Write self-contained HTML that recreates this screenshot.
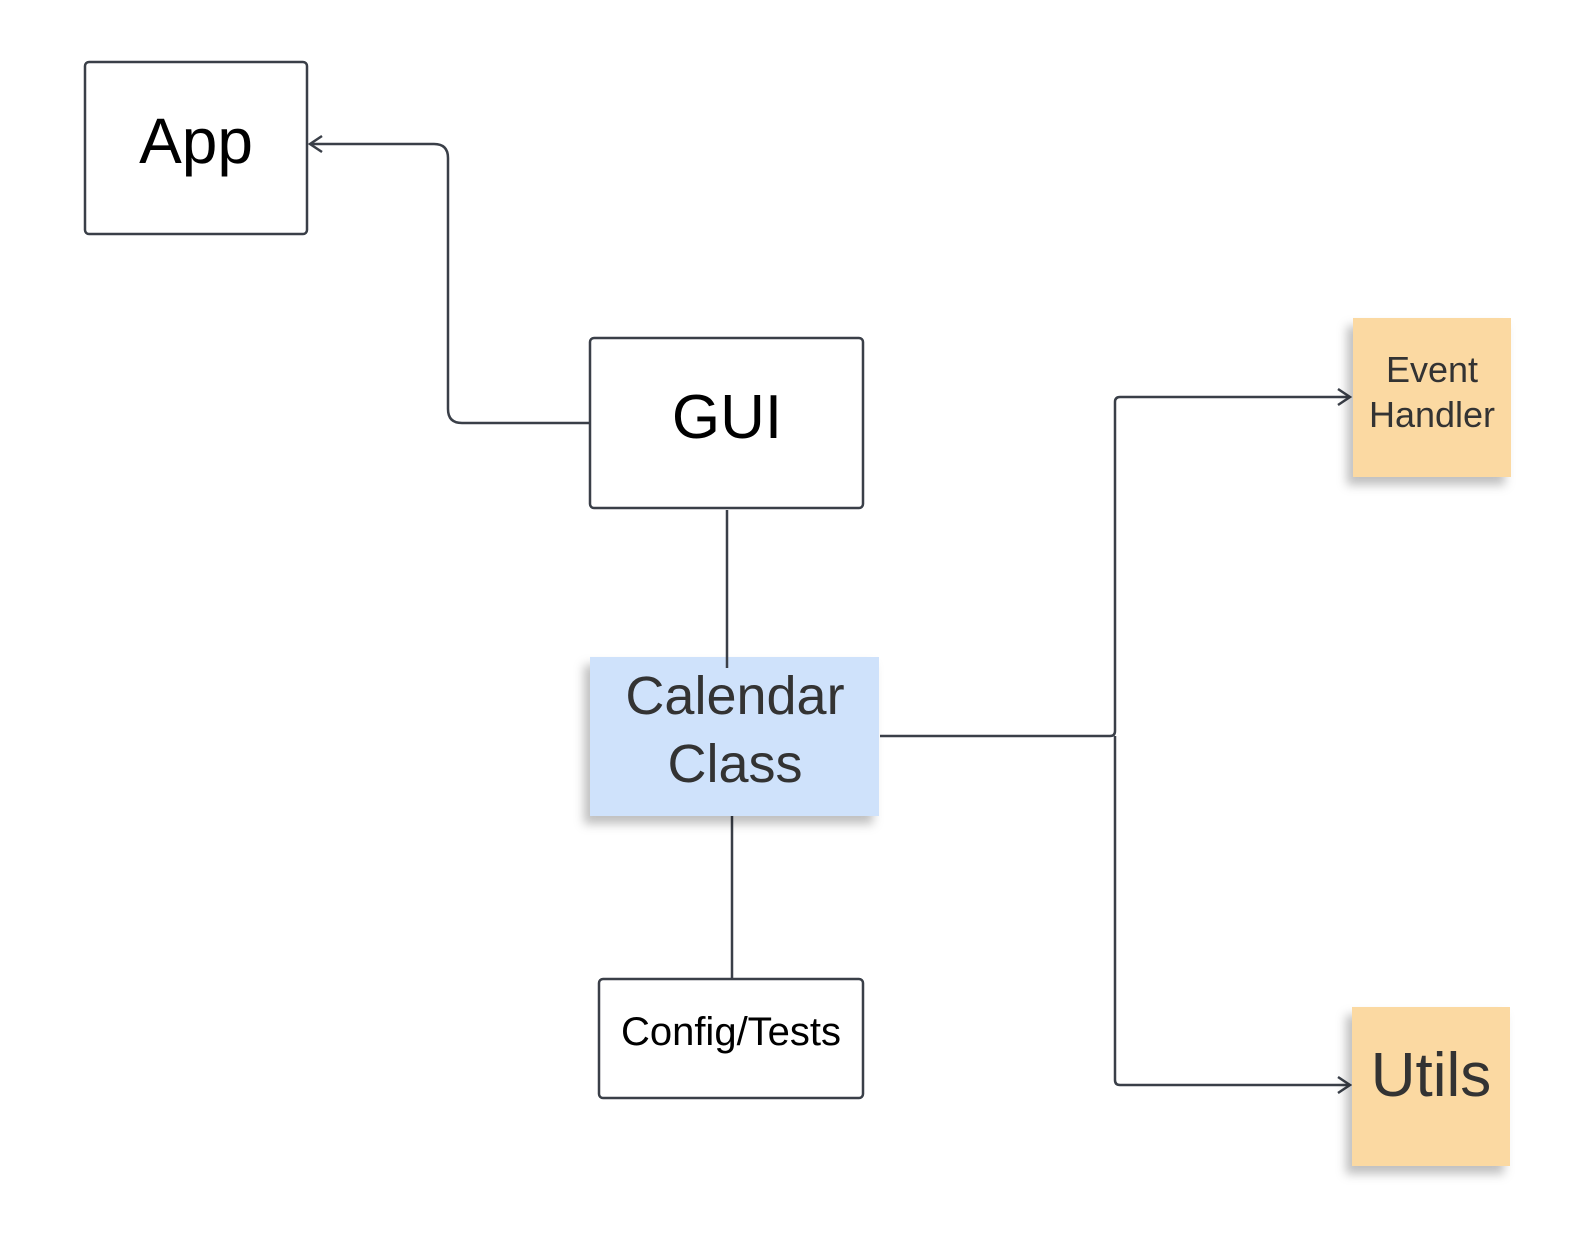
<!DOCTYPE html>
<html><head><style>body{margin:0;background:#fff}</style></head><body>
<svg width="1575" height="1250" xmlns="http://www.w3.org/2000/svg" font-family="Liberation Sans, sans-serif">
<defs>
<filter id="sh" x="-20%" y="-20%" width="150%" height="150%"><feDropShadow dx="-6" dy="8" stdDeviation="5" flood-color="#000" flood-opacity="0.25"/></filter>
</defs>
<g fill="none" stroke="#3a3f48" stroke-width="2.5">
<path d="M590 423 H462 Q448 423 448 409 V158 Q448 144 434 144 H310"/>
<path d="M322 136 L310 144 L322 152"/>
<path d="M727 510 V668"/>
<path d="M732 816 V979"/>
<path d="M880 736 H1110 Q1115 736 1115 731 V402 Q1115 397 1120 397 H1350"/>
<path d="M1115 736 V1080 Q1115 1085 1120 1085 H1350"/>
<path d="M1338 389 L1350 397 L1338 405"/>
<path d="M1338 1077 L1350 1085 L1338 1093"/>
</g>
<g fill="#fff" stroke="#3a3f48" stroke-width="2.5">
<rect x="85" y="62" width="222" height="172" rx="4"/>
<rect x="590" y="338" width="273" height="170" rx="4"/>
<rect x="599" y="979" width="264" height="119" rx="4"/>
</g>
<rect x="590" y="657" width="289" height="159" fill="#cfe2fb" filter="url(#sh)"/>
<rect x="1353" y="318" width="158" height="159" fill="#fbd9a2" filter="url(#sh)"/>
<rect x="1352" y="1007" width="158" height="159" fill="#fbd9a2" filter="url(#sh)"/>
<path d="M727 657 V668" stroke="#3a3f48" stroke-width="2.5"/>
<g text-anchor="middle">
<text x="196" y="163" font-size="64" fill="#000">App</text>
<text x="727" y="438" font-size="62" fill="#000">GUI</text>
<text x="731" y="1045" font-size="40" fill="#000">Config/Tests</text>
<text x="735" y="714" font-size="54" fill="#333">Calendar</text>
<text x="735" y="782" font-size="54" fill="#333">Class</text>
<text x="1432" y="382" font-size="36" fill="#333">Event</text>
<text x="1432" y="427" font-size="36" fill="#333">Handler</text>
<text x="1431" y="1096" font-size="62" fill="#333">Utils</text>
</g>
</svg>
</body></html>
